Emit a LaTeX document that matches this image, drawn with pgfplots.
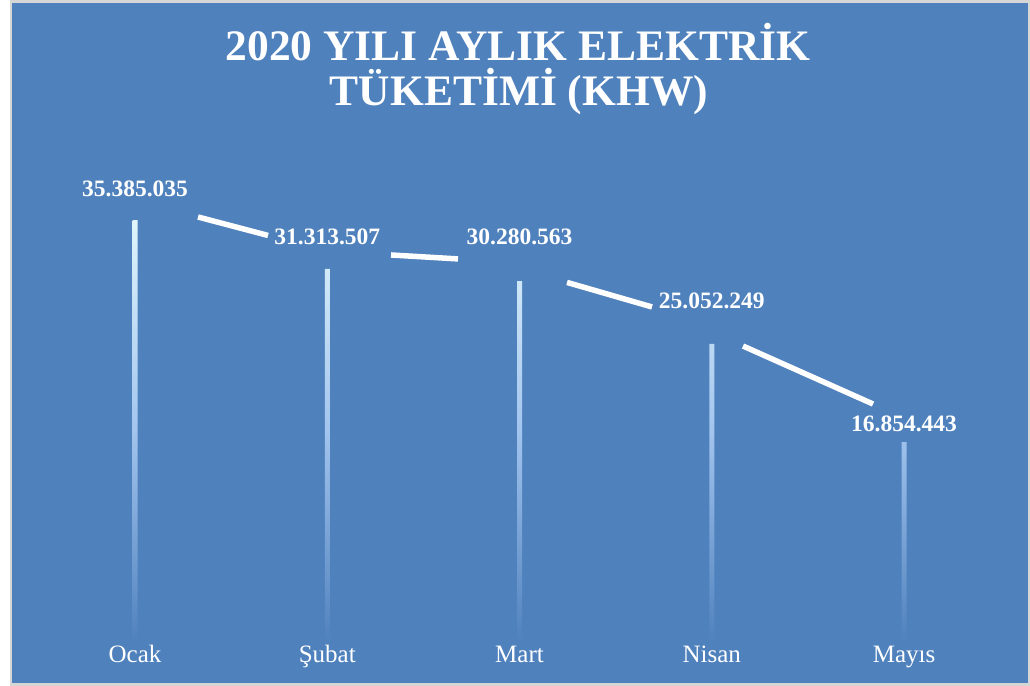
\documentclass[border=0pt]{standalone}
\usepackage{fontspec}
\setmainfont{Liberation Serif}
\usepackage{pgfplots}
\usepackage{pgfplotstable}
\pgfplotsset{compat=1.18}
\definecolor{bg}{HTML}{4F81BD}
\definecolor{frame}{HTML}{D6D6D6}
\definecolor{bartop}{HTML}{E0F5FB}
\definecolor{barmid}{HTML}{A2C4EE}

\pgfplotstableread{
x y ly lab
0 35385035 37.98e6 35.385.035
1 31313507 34.02e6 31.313.507
2 30280563 33.97e6 30.280.563
3 25052249 28.63e6 25.052.249
4 16854443 18.36e6 16.854.443
}\bars

\pgfplotstableread{
x y
0.3277 35.64e6
0.6918 34.10e6
nan nan
1.3316 32.47e6
1.6801 32.14e6
nan nan
2.2471 30.18e6
2.6892 28.13e6
nan nan
3.1625 24.87e6
3.8388 20.03e6
}\segs

\begin{document}
\begin{tikzpicture}[x=1bp,y=1bp]
\useasboundingbox (0,0) rectangle (1030,686);
\fill[frame] (0,0) rectangle (1030,686);
\fill[white] (0,0) rectangle (10,686);
\fill[bg] (12,3) rectangle (1028,683);

\node[anchor=base, text=white, font=\bfseries\fontsize{43.5bp}{48bp}\selectfont] at (518,625) {2020 YILI AYLIK ELEKTRİK};
\node[anchor=base, text=white, font=\bfseries\fontsize{43.5bp}{48bp}\selectfont] at (519,580) {TÜKETİMİ (KHW)};

\begin{axis}[
  at={(38.9bp,42bp)}, anchor=south west,
  width=961.25bp, height=503.2bp, scale only axis,
  xmin=-0.5, xmax=4.5, ymin=0, ymax=42e6,
  axis line style={draw=none},
  ytick=\empty,
  xtick={0,1,2,3,4},
  xticklabels={Ocak,Şubat,Mart,Nisan,Mayıs},
  xtick style={draw=none},
  major tick length=0pt,
  xticklabel style={anchor=base, yshift=-19bp, text=white, font=\fontsize{25bp}{30bp}\selectfont},
  clip=false,
]
\addplot[ybar, bar width=5bp, bar shift=0pt, draw=none, top color=bartop, bottom color=bg, middle color=barmid] table[x=x,y=y]{\bars};
\addplot[white, line width=5.5bp, unbounded coords=jump, mark=none] table[x=x,y=y]{\segs};
\addplot[draw=none, mark=none, nodes near coords, point meta=explicit symbolic,
  nodes near coords style={anchor=center, text=white, font=\bfseries\fontsize{23.5bp}{28bp}\selectfont}]
  table[x=x, y=ly, meta=lab]{\bars};
\end{axis}
\end{tikzpicture}
\end{document}
